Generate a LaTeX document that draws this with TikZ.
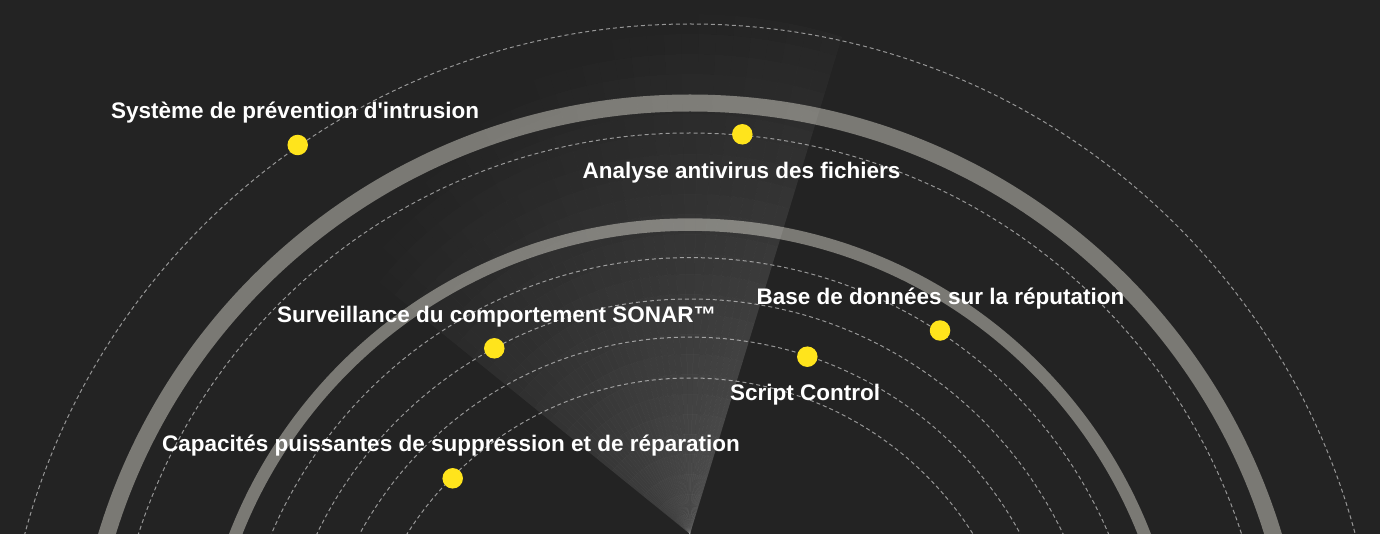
\documentclass[tikz,border=0pt]{standalone}
\usepackage{fontspec}
\newfontfamily\lblfont{Liberation Sans}
\definecolor{bgc}{RGB}{35,35,35}
\definecolor{ringc}{RGB}{122,121,116}
\definecolor{dashc}{RGB}{150,150,150}
\definecolor{dotc}{RGB}{255,228,28}
\tikzset{
  ring/.style={draw=ringc, line width=#1},
  dring/.style={draw=dashc, line width=1pt, dash pattern=on 4pt off 3pt},
  dot/.style={circle, fill=dotc, minimum size=20.5pt, inner sep=0pt},
  lbl/.style={text=white, font=\lblfont\bfseries\fontsize{22.5}{27}\selectfont, inner sep=0pt, anchor=base west},
}
\begin{document}
\begin{tikzpicture}[x=1pt,y=-1pt]
\fill[bgc] (0,0) rectangle (1380,534);
\useasboundingbox (0,0) rectangle (1380,534);
\begin{scope}
\clip (0,0) rectangle (1380,534);
\coordinate (c) at (690,712.6);
\draw[dring] (c) circle[radius=688.6pt];
\draw[ring=17pt] (c) circle[radius=609.6pt];
\draw[dring] (c) circle[radius=579.6pt];
\draw[ring=12.5pt] (c) circle[radius=488pt];
\foreach \r in {455,413.6,375.5,334.6} \draw[dring] (c) circle[radius=\r pt];
% radar beam
\foreach \i in {0,...,33}{
  \foreach \j in {0,...,25}{
    \pgfmathsetmacro{\ta}{73+2*\i}
    \pgfmathsetmacro{\tb}{\ta+2}
    \pgfmathsetmacro{\ra}{20*\j}
    \pgfmathsetmacro{\rb}{\ra+20}
    \pgfmathsetmacro{\tt}{(\i+0.5)/34}
    \pgfmathsetmacro{\rm}{560-140*\tt}
    \pgfmathsetmacro{\al}{0.21*max(0,1-(\ra+10)/\rm)*(1-0.4*\tt)}
    \fill[white, opacity=\al] ({690+\ra*cos(\ta)},{534-\ra*sin(\ta)}) -- ({690+\rb*cos(\ta)},{534-\rb*sin(\ta)}) -- ({690+\rb*cos(\tb)},{534-\rb*sin(\tb)}) -- ({690+\ra*cos(\tb)},{534-\ra*sin(\tb)}) -- cycle;
  }
}
\end{scope}
\node[dot] (d1) at (297.7,145) {};
\node[dot] (d2) at (742.3,134.3) {};
\node[dot] (d3) at (494.3,348.3) {};
\node[dot] (d4) at (807.3,356.7) {};
\node[dot] (d5) at (940,330.5) {};
\node[dot] (d6) at (452.7,478.3) {};
\node[lbl] (t1) at (111,119) {Système de prévention d\textquotesingle intrusion};
\node[lbl] (t2) at (582.5,178.5) {Analyse antivirus des fichiers};
\node[lbl] (t3) at (277,322) {Surveillance du comportement SONAR™};
\node[lbl] (t4) at (756.5,304.5) {Base de données sur la réputation};
\node[lbl] (t5) at (730,400.5) {Script Control};
\node[lbl] (t6) at (162,451.5) {Capacités puissantes de suppression et de réparation};
\end{tikzpicture}
\end{document}
